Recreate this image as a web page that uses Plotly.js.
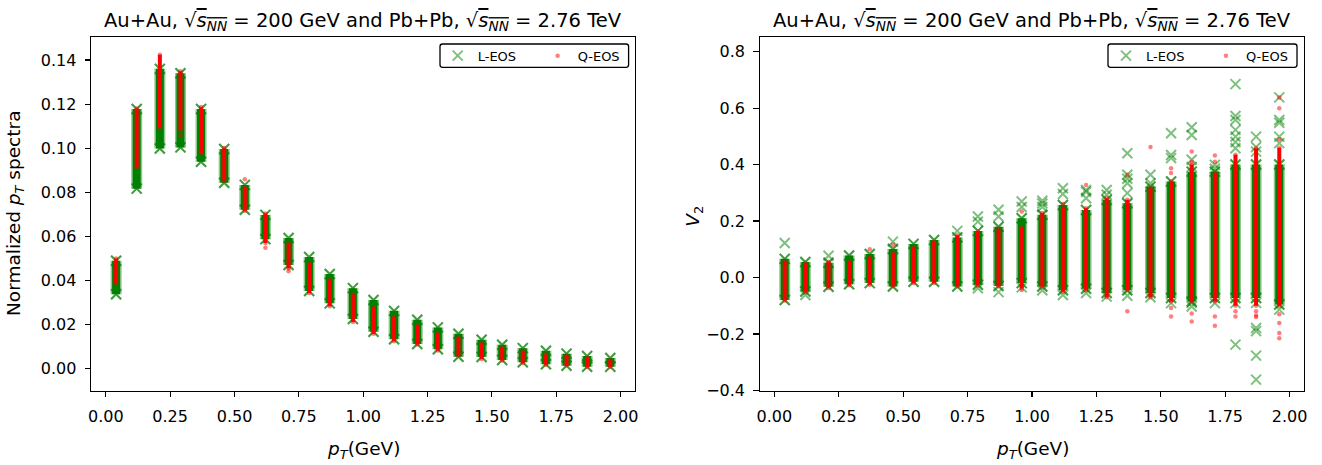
<!DOCTYPE html>
<html><head><meta charset="utf-8">
<script src="https://cdn.plot.ly/plotly-3.0.1.min.js"></script>
<style>html,body{margin:0;padding:0;background:#fff}#chart{width:1322px;height:465px}</style>
</head><body><div id="chart"></div>
<script>
// pT bins (GeV)
const pT = [0.04, 0.12, 0.21, 0.29, 0.37, 0.46, 0.54, 0.62, 0.71, 0.79, 0.87, 0.96,
            1.04, 1.12, 1.21, 1.29, 1.37, 1.46, 1.54, 1.62, 1.71, 1.79, 1.87, 1.96];

// Normalized pT spectra: range of the event samples in each bin
const specL_lo = [0.0338,0.0817,0.0999,0.1004,0.0939,0.0844,0.0721,0.0588,0.0471,0.0353,0.0297,0.0226,
                  0.0168,0.0134,0.0113,0.0089,0.0055,0.0054,0.0040,0.0030,0.0021,0.0014,0.0010,0.0010];
const specL_hi = [0.0490,0.1178,0.1360,0.1340,0.1178,0.0997,0.0834,0.0698,0.0593,0.0507,0.0430,0.0366,
                  0.0312,0.0263,0.0223,0.0188,0.0159,0.0132,0.0109,0.0094,0.0082,0.0069,0.0058,0.0049];
const specQ_lo = [0.0389,0.0914,0.1095,0.1084,0.0979,0.0854,0.0717,0.0571,0.0455,0.0344,0.0284,0.0213,
                  0.0159,0.0125,0.0110,0.0083,0.0062,0.0045,0.0038,0.0027,0.0019,0.0017,0.0009,0.0009];
const specQ_hi = [0.0500,0.1180,0.1424,0.1349,0.1187,0.1001,0.0820,0.0704,0.0568,0.0477,0.0402,0.0337,
                  0.0276,0.0236,0.0198,0.0160,0.0142,0.0115,0.0097,0.0080,0.0065,0.0059,0.0051,0.0039];
const specQ_out_pt = [0.29, 0.54, 0.62, 0.71];
const specQ_out_v  = [0.1060, 0.0860, 0.0549, 0.0443];

// v2: range of the dense samples in each bin
const v2L_lo = [-0.080,-0.050,-0.033,-0.024,-0.020,-0.032,-0.015,-0.015,-0.032,-0.026,-0.030,-0.020,
                -0.032,-0.045,-0.040,-0.055,-0.045,-0.055,-0.073,-0.085,-0.073,-0.073,-0.073,-0.096];
const v2L_hi = [0.066,0.055,0.052,0.078,0.083,0.101,0.119,0.133,0.142,0.165,0.180,0.210,
                0.222,0.257,0.239,0.275,0.263,0.322,0.340,0.375,0.375,0.400,0.400,0.400];
const v2Q_lo = [-0.082,-0.052,-0.037,-0.028,-0.026,-0.031,-0.020,-0.020,-0.031,-0.028,-0.031,-0.037,
                -0.032,-0.050,-0.045,-0.070,-0.045,-0.070,-0.085,-0.085,-0.085,-0.100,-0.100,-0.100];
const v2Q_hi = [0.056,0.050,0.056,0.056,0.070,0.088,0.104,0.127,0.150,0.162,0.172,0.175,
                0.228,0.245,0.245,0.281,0.275,0.316,0.340,0.400,0.370,0.435,0.458,0.460];
// v2 isolated samples
const v2L_out_pt = [0.04, 0.12, 0.21, 0.46, 0.71,
                    0.79, 0.79, 0.79, 0.87, 0.87, 0.87, 0.96, 0.96, 0.96,
                    1.04, 1.04, 1.04, 1.04, 1.12, 1.12, 1.12, 1.21, 1.21, 1.21, 1.21,
                    1.29, 1.29, 1.29, 1.37, 1.37, 1.37, 1.37, 1.37, 1.37, 1.46, 1.46, 1.46,
                    1.54, 1.54, 1.54, 1.54, 1.62, 1.62, 1.62, 1.62, 1.62, 1.62, 1.71, 1.71, 1.71,
                    1.79, 1.79, 1.79, 1.79, 1.79, 1.79, 1.79, 1.79, 1.79,
                    1.87, 1.87, 1.87, 1.87, 1.87, 1.87, 1.87, 1.87,
                    1.96, 1.96, 1.96, 1.96, 1.96, 1.96];
const v2L_out_v  = [0.122, -0.062, 0.077, 0.127, 0.165,
                    0.198, 0.216, -0.038, 0.216, 0.240, -0.052, 0.250, 0.269, -0.035,
                    0.250, 0.262, 0.272, -0.045, 0.296, 0.316, -0.062, 0.281, 0.304, 0.310, -0.055,
                    0.293, 0.310, -0.068, 0.299, 0.334, 0.350, 0.364, 0.440, -0.065, 0.334, 0.364, -0.070,
                    0.423, 0.434, 0.511, -0.091, 0.392, 0.417, 0.505, 0.532, -0.103, -0.090, 0.385, 0.399, -0.091,
                    0.458, 0.480, 0.499, 0.523, 0.558, 0.572, 0.685, -0.091, -0.238,
                    0.446, 0.462, 0.499, -0.090, -0.179, -0.190, -0.277, -0.362,
                    0.476, 0.499, 0.548, 0.558, 0.638, -0.114];
const v2Q_out_pt = [0.37, 0.46, 0.96, 0.96, 1.12, 1.21, 1.37, 1.37, 1.46,
                    1.54, 1.54, 1.54, 1.54, 1.62, 1.62, 1.62, 1.62, 1.71, 1.71, 1.71, 1.71,
                    1.79, 1.79, 1.87, 1.87, 1.87,
                    1.96, 1.96, 1.96, 1.96, 1.96, 1.96, 1.96];
const v2Q_out_v  = [0.100, 0.116, 0.234, -0.044, 0.260, 0.328, 0.364, -0.120, 0.462,
                    0.370, 0.387, -0.108, -0.138, 0.410, 0.446, -0.128, -0.156, 0.410, 0.432, -0.138, -0.171,
                    -0.120, -0.138, -0.120, -0.135, -0.140,
                    0.490, 0.600, 0.638, -0.130, -0.161, -0.197, -0.215];

const xTicks = [0, 0.25, 0.5, 0.75, 1, 1.25, 1.5, 1.75, 2];
const seriesNames = ['L-EOS', 'Q-EOS'];

const GREEN = 'rgb(0,128,0)', GREEN_A = 'rgba(0,128,0,0.5)';
const RED = 'rgb(255,0,0)', RED_A = 'rgba(255,0,0,0.5)';
const FONT = 'DejaVu Sans';
const NBSP = '\u00a0';

function colXY(pt, lo, hi) {
  const x = [], y = [];
  pt.forEach((p, i) => { x.push(p, p, null); y.push(lo[i], hi[i], null); });
  return {x, y};
}

function panel(xa, ya, leg, Llo, Lhi, Qlo, Qhi, Lopt, Lov, Qopt, Qov) {
  const gc = colXY(pT, Llo, Lhi), rc = colXY(pT, Qlo, Qhi);
  const xmark = (c) => ({symbol: 'x-thin', size: 10, color: c, line: {width: 2, color: c}});
  return [
    {type: 'scatter', mode: 'lines', x: gc.x, y: gc.y, xaxis: xa, yaxis: ya, showlegend: false,
     hoverinfo: 'skip', line: {color: 'rgba(0,128,0,0.45)', width: 11}},
    {type: 'scatter', mode: 'lines', x: gc.x, y: gc.y, xaxis: xa, yaxis: ya, showlegend: false,
     hoverinfo: 'skip', line: {color: GREEN, width: 8}},
    {type: 'scatter', mode: 'markers', x: pT.concat(pT), y: Llo.concat(Lhi), xaxis: xa, yaxis: ya,
     showlegend: false, marker: xmark(GREEN_A)},
    {type: 'scatter', mode: 'markers', name: seriesNames[0] + NBSP.repeat(4), legend: leg,
     x: pT.concat(pT, Lopt), y: Llo.concat(Lhi, Lov), xaxis: xa, yaxis: ya, marker: xmark(GREEN_A)},
    {type: 'scatter', mode: 'lines', x: rc.x, y: rc.y, xaxis: xa, yaxis: ya, showlegend: false,
     hoverinfo: 'skip', line: {color: RED, width: 4}},
    {type: 'scatter', mode: 'markers', name: seriesNames[1], legend: leg,
     x: pT.concat(pT, Qopt), y: Qlo.concat(Qhi, Qov), xaxis: xa, yaxis: ya,
     marker: {symbol: 'circle', size: 4.5, color: RED_A, line: {width: 0}}}
  ];
}

const data = [].concat(
  panel('x', 'y', 'legend', specL_lo, specL_hi, specQ_lo, specQ_hi, [], [], specQ_out_pt, specQ_out_v),
  panel('x2', 'y2', 'legend2', v2L_lo, v2L_hi, v2Q_lo, v2Q_hi, v2L_out_pt, v2L_out_v, v2Q_out_pt, v2Q_out_v)
);

const W = 1322, H = 465;
const frameTop = 37.3, frameBottom = 390.5;
const ydom = [1 - frameBottom / H, 1 - frameTop / H];
const axBase = {
  showline: true, mirror: true, linecolor: '#000', linewidth: 1.2,
  ticks: 'outside', ticklen: 5.6, tickwidth: 1.2, tickcolor: '#000',
  showgrid: false, zeroline: false, ticklabelstandoff: 5,
  tickfont: {family: FONT, size: 16, color: '#000'}
};
const xax = (dom, anchor) => Object.assign({}, axBase, {
  domain: dom, anchor: anchor, range: [-0.056, 2.056],
  tickmode: 'array', tickvals: xTicks, ticktext: xTicks.map(v => v.toFixed(2))
});

const title = 'Au+Au, √<span style="text-decoration:overline"><i>s</i><sub><i>NN</i></sub></span> = 200 GeV and Pb+Pb, √<span style="text-decoration:overline"><i>s</i><sub><i>NN</i></sub></span> = 2.76 TeV';
const L1 = 91.4, R1 = 635, L2 = 760, R2 = 1304;
const c1 = (L1 + R1) / 2 / W, c2 = (L2 + R2) / 2 / W;
const ann = (text, x, y, extra) => Object.assign({text, x, y, xref: 'paper', yref: 'paper',
  showarrow: false, xanchor: 'center', yanchor: 'middle', font: {family: FONT, size: 18.5, color: '#000'}}, extra || {});

// legend frames (matplotlib style, slightly rounded)
function roundBox(x0, y0, x1, y1, r) {
  const X = v => (v / W).toFixed(5), Y = v => (1 - v / H).toFixed(5);
  return {type: 'path', xref: 'paper', yref: 'paper', layer: 'above',
    path: `M${X(x0 + r)},${Y(y0)} L${X(x1 - r)},${Y(y0)} Q${X(x1)},${Y(y0)} ${X(x1)},${Y(y0 + r)} ` +
          `L${X(x1)},${Y(y1 - r)} Q${X(x1)},${Y(y1)} ${X(x1 - r)},${Y(y1)} L${X(x0 + r)},${Y(y1)} ` +
          `Q${X(x0)},${Y(y1)} ${X(x0)},${Y(y1 - r)} L${X(x0)},${Y(y0 + r)} Q${X(x0)},${Y(y0)} ${X(x0 + r)},${Y(y0)} Z`,
    line: {color: '#000', width: 1.3}, fillcolor: 'rgba(255,255,255,0.8)'};
}

const legBase = {orientation: 'h', xanchor: 'left', yanchor: 'middle', y: 1 - 55.7 / H,
  bgcolor: 'rgba(0,0,0,0)', borderwidth: 0,
  font: {family: FONT, size: 13, color: '#000'}};

const layout = {
  width: W, height: H, margin: {l: 0, r: 0, t: 0, b: 0},
  paper_bgcolor: '#fff', plot_bgcolor: '#fff',
  font: {family: FONT, color: '#000'},
  xaxis: xax([L1 / W, R1 / W], 'y'),
  yaxis: Object.assign({}, axBase, {domain: ydom, anchor: 'x', range: [-0.0098, 0.1503],
    tick0: 0, dtick: 0.02, tickformat: '.2f'}),
  xaxis2: xax([L2 / W, R2 / W], 'y2'),
  yaxis2: Object.assign({}, axBase, {domain: ydom, anchor: 'x2', range: [-0.4005, 0.851],
    tick0: 0, dtick: 0.2, tickformat: '.1f'}),
  legend: Object.assign({}, legBase, {x: 437.7 / W}),
  legend2: Object.assign({}, legBase, {x: 1106 / W}),
  shapes: [roundBox(440, 44, 628.6, 67.3, 2.5), roundBox(1108, 44, 1297, 67.3, 2.5)],
  annotations: [
    ann(title, c1, 1 - 21.7 / H, {font: {family: FONT, size: 19.5, color: '#000'}}),
    ann(title, c2, 1 - 21.7 / H, {font: {family: FONT, size: 19.5, color: '#000'}}),
    ann('<i>p</i><sub><i>T</i></sub>(GeV)', c1, 1 - 450 / H),
    ann('<i>p</i><sub><i>T</i></sub>(GeV)', c2, 1 - 450 / H),
    ann('Normalized <i>p</i><sub><i>T</i></sub> spectra', 15 / W, 1 - 214 / H, {textangle: -90}),
    ann('<i>V</i><sub>2</sub>', 693.7 / W, 1 - 216 / H, {textangle: -90})
  ]
};

Plotly.newPlot('chart', data, layout, {staticPlot: true, displayModeBar: false});
</script></body></html>
